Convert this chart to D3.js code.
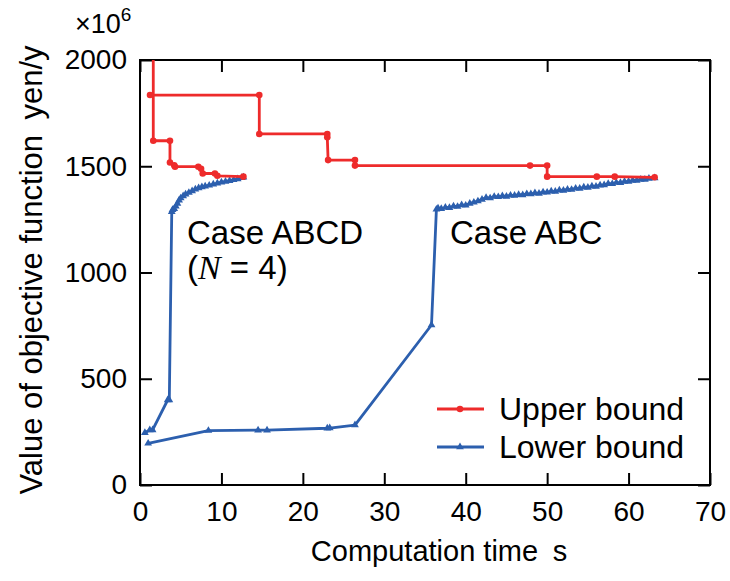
<!DOCTYPE html>
<html>
<head>
<meta charset="utf-8">
<script src="https://cdn.jsdelivr.net/npm/d3@7"></script>
<style>
  body { margin: 0; background: #fff; }
  text { font-family: "Liberation Sans", Arial, sans-serif; fill: #000; }
</style>
</head>
<body>
<svg id="chart" width="730" height="581"></svg>
<script>
// tick values
const xTicks = [0, 10, 20, 30, 40, 50, 60, 70];
const yTicks = [0, 500, 1000, 1500, 2000];

// upper bound, case ABCD (first vertex lies above the plot and is clipped)
const upperABCD = [
  [1.63, 2400], [1.63, 1620], [3.68, 1620], [3.68, 1518], [4.2, 1505], [4.3, 1498],
  [7.16, 1498], [7.5, 1488], [7.7, 1466], [9.2, 1466], [9.5, 1455], [12.7, 1451]
];
// upper bound, case ABC
const upperABC = [
  [1.23, 1835], [14.65, 1835], [14.65, 1652], [23.0, 1652], [23.0, 1636], [23.1, 1529],
  [26.4, 1529], [26.4, 1503], [47.9, 1503], [50.0, 1503], [50.0, 1451], [56.1, 1451],
  [58.3, 1451], [63.2, 1448]
];
// lower bound, case ABCD
const lowerABCD = [
  [0.6, 246], [1.2, 259], [1.55, 259], [3.4, 400], [3.6, 400], [3.9, 1286],
  [4.0, 1295], [4.2, 1300], [4.4, 1312], [4.6, 1325], [4.8, 1340], [5.0, 1350],
  [5.3, 1360], [5.6, 1368], [6.0, 1376], [6.4, 1384], [6.8, 1392], [7.2, 1398],
  [7.6, 1402], [8.0, 1406], [8.5, 1410], [9.0, 1415], [9.5, 1420], [10.0, 1425],
  [10.5, 1428], [11.0, 1432], [11.5, 1436], [12.0, 1440], [12.5, 1446], [12.7, 1448]
];
// lower bound, case ABC
const lowerABC = [
  [1.0, 196], [8.4, 256], [14.5, 258], [15.6, 258], [23.0, 267], [23.3, 268],
  [26.4, 282], [35.8, 753], [36.4, 1297], [36.6, 1302], [37.0, 1300], [37.5, 1306],
  [38.0, 1305], [38.5, 1312], [39.0, 1310], [39.5, 1318], [40.0, 1316], [40.5, 1325],
  [41.0, 1330], [41.5, 1336], [42.0, 1344], [42.5, 1352], [43.0, 1350], [43.5, 1357],
  [44.0, 1356], [44.5, 1360], [45.0, 1358], [45.5, 1363], [46.0, 1362], [46.5, 1366],
  [47.0, 1365], [47.5, 1370], [48.0, 1369], [48.5, 1374], [49.0, 1372], [49.5, 1378],
  [50.0, 1377], [50.5, 1382], [51.0, 1381], [51.5, 1387], [52.0, 1386], [52.5, 1391],
  [53.0, 1390], [53.5, 1396], [54.0, 1395], [54.5, 1401], [55.0, 1400], [55.5, 1406],
  [56.0, 1405], [56.5, 1411], [57.0, 1412], [57.5, 1418], [58.0, 1417], [58.5, 1423],
  [59.0, 1422], [59.5, 1428], [60.0, 1428], [60.5, 1433], [61.0, 1433], [61.5, 1438],
  [62.0, 1438], [62.5, 1442], [63.2, 1445]
];

const RED = "#ee2b2b";
const BLUE = "#2c5fae";

const svg = d3.select("#chart");
const plotL = 140, plotR = 710, plotT = 60, plotB = 485;

const x = d3.scaleLinear().domain([0, 70]).range([plotL, plotR]);
const y = d3.scaleLinear().domain([0, 2000]).range([plotB, plotT]);

svg.append("clipPath").attr("id", "plotclip")
  .append("rect").attr("x", plotL).attr("y", plotT)
  .attr("width", plotR - plotL).attr("height", plotB - plotT);

// axes, ticks pointing inward
const styleAxis = g => {
  g.select(".domain").remove();
  g.selectAll(".tick line").attr("stroke", "#000").attr("stroke-width", 2);
  g.selectAll(".tick text").style("font-size", "28px")
    .style("font-family", "Liberation Sans, Arial, sans-serif");
};

svg.append("g").attr("transform", `translate(0,${plotB})`)
  .call(d3.axisBottom(x).tickValues(xTicks).tickSize(-12).tickPadding(16).tickFormat(d3.format("d")))
  .call(styleAxis);
svg.append("g").attr("transform", `translate(0,${plotT})`)
  .call(d3.axisTop(x).tickValues(xTicks).tickSize(-12).tickFormat(""))
  .call(styleAxis);
svg.append("g").attr("transform", `translate(${plotL},0)`)
  .call(d3.axisLeft(y).tickValues(yTicks).tickSize(-12).tickPadding(13).tickFormat(d3.format("d")))
  .call(styleAxis);
svg.append("g").attr("transform", `translate(${plotR},0)`)
  .call(d3.axisRight(y).tickValues(yTicks).tickSize(-12).tickFormat(""))
  .call(styleAxis);

svg.append("rect")
  .attr("x", plotL).attr("y", plotT)
  .attr("width", plotR - plotL).attr("height", plotB - plotT)
  .attr("fill", "none").attr("stroke", "#000").attr("stroke-width", 2);

const line = d3.line().x(d => x(d[0])).y(d => y(d[1]));
const plot = svg.append("g").attr("clip-path", "url(#plotclip)");
const tri = d3.symbol().type(d3.symbolTriangle).size(26);

function drawSeries(data, color, marker) {
  plot.append("path").datum(data)
    .attr("d", line).attr("fill", "none")
    .attr("stroke", color).attr("stroke-width", 2.8)
    .attr("stroke-linejoin", "round");
  if (marker === "circle") {
    plot.selectAll(null).data(data).enter().append("circle")
      .attr("cx", d => x(d[0])).attr("cy", d => y(d[1]))
      .attr("r", 3.3).attr("fill", color);
  } else {
    plot.selectAll(null).data(data).enter().append("path")
      .attr("d", tri)
      .attr("transform", d => `translate(${x(d[0])},${y(d[1])})`)
      .attr("fill", color);
  }
}

drawSeries(lowerABCD, BLUE, "triangle");
drawSeries(lowerABC, BLUE, "triangle");
drawSeries(upperABCD, RED, "circle");
drawSeries(upperABC, RED, "circle");

// axis titles
svg.append("text")
  .attr("x", 439).attr("y", 561)
  .attr("text-anchor", "middle").style("font-size", "29px")
  .text("Computation time\u2002s");

svg.append("text")
  .attr("transform", "translate(42,270) rotate(-90)")
  .attr("text-anchor", "middle").style("font-size", "31px")
  .text("Value of objective function\u2002yen/y");

const mult = svg.append("text").attr("x", 75).attr("y", 33).style("font-size", "27px");
mult.append("tspan").text("\u00d710");
mult.append("tspan").attr("dy", -12).style("font-size", "19px").text("6");

// annotations
svg.append("text").attr("x", 187).attr("y", 244).style("font-size", "33px").text("Case ABCD");
const nt = svg.append("text").attr("x", 187).attr("y", 279).style("font-size", "33px");
nt.append("tspan").text("(");
nt.append("tspan").style("font-family", "Liberation Serif, serif")
  .style("font-style", "italic").style("font-size", "34px").text("N");
nt.append("tspan").text(" = 4)");
svg.append("text").attr("x", 450).attr("y", 244).style("font-size", "33px").text("Case ABC");

// legend
const legend = [
  { label: "Upper bound", color: RED, marker: "circle", yPos: 409 },
  { label: "Lower bound", color: BLUE, marker: "triangle", yPos: 447 }
];
legend.forEach(item => {
  svg.append("line")
    .attr("x1", 437).attr("x2", 484)
    .attr("y1", item.yPos).attr("y2", item.yPos)
    .attr("stroke", item.color).attr("stroke-width", 2.8);
  if (item.marker === "circle") {
    svg.append("circle").attr("cx", 460).attr("cy", item.yPos).attr("r", 3.3).attr("fill", item.color);
  } else {
    svg.append("path").attr("d", tri)
      .attr("transform", `translate(460,${item.yPos})`).attr("fill", item.color);
  }
  svg.append("text").attr("x", 499).attr("y", item.yPos + 11)
    .style("font-size", "32px").text(item.label);
});
</script>
</body>
</html>
